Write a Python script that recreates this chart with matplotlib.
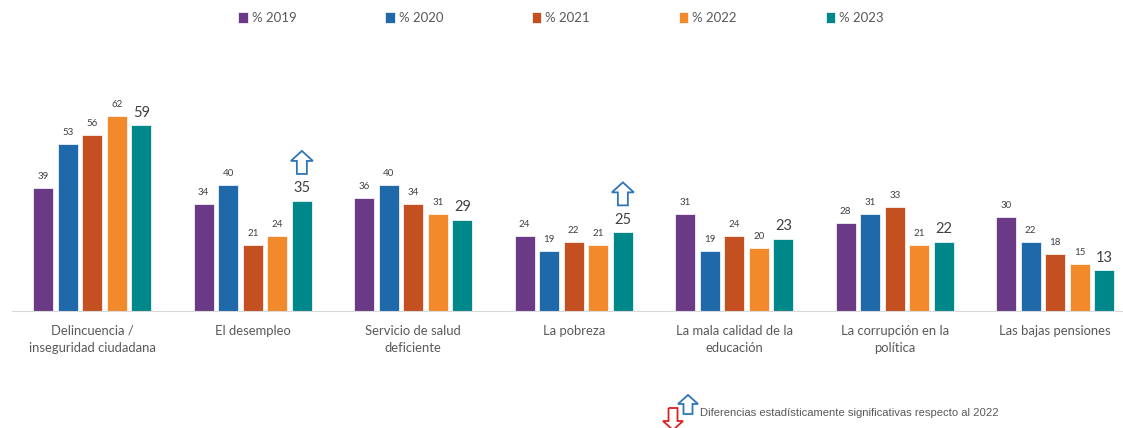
from matplotlib import pyplot as plt
from matplotlib.patches import Polygon
from matplotlib.transforms import IdentityTransform
import numpy as np

categorias = ['Delincuencia /\ninseguridad ciudadana', 'El desempleo',
              'Servicio de salud\ndeficiente', 'La pobreza',
              'La mala calidad de la\neducación', 'La corrupción en la\npolítica',
              'Las bajas pensiones']
anios = ['% 2019', '% 2020', '% 2021', '% 2022', '% 2023']
v2019 = [39, 34, 36, 24, 31, 28, 30]
v2020 = [53, 40, 40, 19, 19, 31, 22]
v2021 = [56, 21, 34, 22, 24, 33, 18]
v2022 = [62, 24, 31, 21, 20, 21, 15]
v2023 = [59, 35, 29, 25, 23, 22, 13]
# flechas de diferencia significativa (indice de categoria en la serie 2023)
sube = [1, 3]

colores = ['#6A3A86', '#1F68AA', '#C44F20', '#F28A2C', '#00878A']
gris = '#595959'

fig = plt.figure(figsize=(11.23, 4.28), dpi=100)
ax = fig.add_axes([12/1123, (428-311)/428, (1123-12)/1123, (311-40)/428])

x = np.arange(len(categorias))
paso = 0.153
ancho = 0.125
series = [v2019, v2020, v2021, v2022, v2023]
for i, (s, c, a) in enumerate(zip(series, colores, anios)):
    xs = x + (i-2)*paso
    ax.bar(xs, s, ancho, color=c, edgecolor='white', linewidth=0.5, label=a)
    for xi, v in zip(xs, s):
        if i == 4:
            ax.annotate(str(v), (xi, v), xytext=(0, 4), textcoords='offset points',
                        ha='center', va='bottom', fontsize=10.5, color='#404040', family='Lato')
        else:
            ax.annotate(str(v), (xi, v), xytext=(0, 5), textcoords='offset points',
                        ha='center', va='bottom', fontsize=7, color='#404040', family='Lato')

ax.set_xlim(-0.5, (1123-12)/160.5 - 0.5)
ax.set_ylim(0, (311-40)/3.145)
for s in ['top', 'right', 'left']:
    ax.spines[s].set_visible(False)
ax.spines['bottom'].set_color('#D9D9D9')
ax.set_yticks([])
ax.set_xticks(x)
ax.set_xticklabels(categorias, fontsize=9.4, color=gris, family='Lato', linespacing=1.5)
ax.tick_params(axis='x', length=0, pad=10)

fig.legend(loc='upper center', bbox_to_anchor=(561/1123, 1.0), ncol=5, frameon=False,
           handlelength=0.7, handleheight=0.9, handletextpad=0.3, columnspacing=6.75,
           prop={'family': 'Lato', 'size': 9.5}, labelcolor=gris)


def flecha(cx, y0, y1, hw=11, tw=5, hl=10):
    # y0 = base, y1 = punta (pixeles)
    d = 1 if y1 > y0 else -1
    yh = y1 - d*hl
    return [(cx-tw, y0), (cx+tw, y0), (cx+tw, yh), (cx+hw, yh), (cx, y1),
            (cx-hw, yh), (cx-tw, yh)]


fig.canvas.draw()
for k in sube:
    px, py = ax.transData.transform((x[k] + 2*paso, v2023[k]))
    verts = flecha(px, py + 27, py + 50)
    fig.patches.append(Polygon(verts, closed=True, fill=False, edgecolor='#2E75B6',
                               linewidth=1.3, transform=IdentityTransform(), figure=fig))

# clave de flechas
H = 428
fig.patches.append(Polygon(flecha(673, H-408, H-430, hw=10, tw=4.5, hl=9), closed=True, fill=False,
                           edgecolor='#E02020', linewidth=1.3, transform=IdentityTransform(), figure=fig))
fig.patches.append(Polygon(flecha(688, H-414, H-395, hw=10, tw=4.5, hl=9), closed=True, fill=False,
                           edgecolor='#2E75B6', linewidth=1.3, transform=IdentityTransform(), figure=fig))
fig.text(700/1123, 1-413/428, 'Diferencias estadísticamente significativas respecto al 2022',
         fontsize=8.1, color=gris, family='Liberation Sans', va='center', ha='left')

plt.savefig('out.png', dpi=100)
